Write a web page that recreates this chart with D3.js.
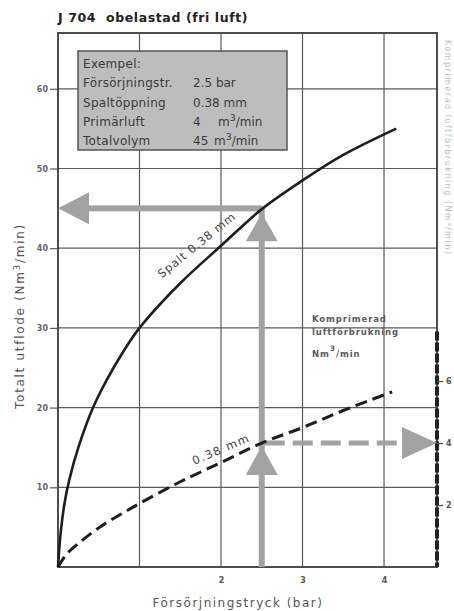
<!DOCTYPE html>
<html>
<head>
<meta charset="utf-8">
<script src="https://cdn.jsdelivr.net/npm/d3@7"></script>
<style>
  html, body { margin: 0; padding: 0; background: #fff; }
  svg { display: block; }
  text { font-family: "DejaVu Sans", "Noto Sans", sans-serif; }
</style>
</head>
<body>
<svg id="chart" width="454" height="611"></svg>
<script>
// Supply pressure (bar) grid and tick values
const xGrid = [1, 2, 3, 4];
const xTickLabels = [2, 3, 4];
// Total outflow (Nm3/min), left axis
const yGrid = [10, 20, 30, 40, 50, 60];
// Compressed-air consumption (Nm3/min), right axis
const rTicks = [2, 4, 6];

// Slot 0.38 mm: total outflow vs supply pressure
const totalPressure = [0, 0.03, 0.08, 0.14, 0.25, 0.43, 0.6, 0.8, 1.0, 1.5, 2.0, 2.5, 3.0, 3.5, 4.15];
const totalFlow     = [0, 4, 8, 11, 15, 20, 23.5, 27, 30, 35.6, 40.3, 44.9, 48.5, 51.7, 55];

// Slot 0.38 mm: compressed-air consumption vs supply pressure
const primPressure = [0, 0.1, 0.27, 0.52, 0.77, 1.0, 1.5, 2.0, 2.5, 3.0, 3.5, 4.1];
const primFlow     = [0, 0.4, 0.8, 1.3, 1.7, 2.05, 2.75, 3.37, 4.0, 4.5, 5.05, 5.65];

// Worked example
const examplePressure = 2.5;
const exampleTotal = 45;
const examplePrimary = 4;

const svg = d3.select("#chart");
const m = { left: 58, right: 437, top: 33, bottom: 567 };

const x = d3.scaleLinear().domain([0, 4.65]).range([m.left, m.right]);
const yL = d3.scaleLinear().domain([0, 67]).range([m.bottom, m.top]);
const yR = d3.scaleLinear().domain([0, 17.23]).range([m.bottom, m.top]);

const gridColor = "#5a5a5a";
const arrowGray = "#a2a2a2";

// Title
svg.append("text")
  .attr("x", 58).attr("y", 22)
  .attr("font-size", 12.5).attr("font-weight", "bold").attr("fill", "#222")
  .attr("letter-spacing", 0.6)
  .text("J 704\u00a0 obelastad (fri luft)");

// Grid
const grid = svg.append("g");
grid.selectAll("line.v").data(xGrid).join("line")
  .attr("x1", d => x(d)).attr("x2", d => x(d))
  .attr("y1", m.top).attr("y2", m.bottom)
  .attr("stroke", gridColor).attr("stroke-width", 1.2);
grid.selectAll("line.h").data(yGrid).join("line")
  .attr("x1", m.left).attr("x2", m.right)
  .attr("y1", d => yL(d)).attr("y2", d => yL(d))
  .attr("stroke", gridColor).attr("stroke-width", 1.2);

// Left axis
const leftAxis = d3.axisLeft(yL).tickValues(yGrid).tickSize(8).tickPadding(2);
const gL = svg.append("g").attr("transform", `translate(${m.left},0)`).call(leftAxis);
gL.select(".domain").remove();
gL.selectAll("line").attr("stroke", gridColor).attr("stroke-width", 1.2);
gL.selectAll("text").attr("font-size", 8).attr("font-weight", "bold").attr("fill", "#666");

// Bottom axis
const bottomAxis = d3.axisBottom(x).tickValues(xTickLabels).tickFormat(d3.format("d"))
  .tickSize(0).tickPadding(10);
const gB = svg.append("g").attr("transform", `translate(0,${m.bottom})`).call(bottomAxis);
gB.select(".domain").remove();
gB.selectAll("text").attr("font-size", 8).attr("font-weight", "bold").attr("fill", "#555");

// Frame
svg.append("rect")
  .attr("x", m.left).attr("y", m.top)
  .attr("width", m.right - m.left).attr("height", m.bottom - m.top)
  .attr("fill", "none").attr("stroke", "#3a3a3a").attr("stroke-width", 1.8);

// Right (secondary) axis: heavy dashed segment plus ticks
svg.append("line")
  .attr("x1", m.right).attr("x2", m.right)
  .attr("y1", yR(7.6)).attr("y2", m.bottom)
  .attr("stroke", "#222").attr("stroke-width", 4)
  .attr("stroke-dasharray", "9,2");
const rightAxis = d3.axisRight(yR).tickValues(rTicks).tickSize(6).tickPadding(3);
const gR = svg.append("g").attr("transform", `translate(${m.right},0)`).call(rightAxis);
gR.select(".domain").remove();
gR.selectAll("line").attr("stroke", "#444").attr("stroke-width", 1.2);
gR.selectAll("text").attr("font-size", 8).attr("font-weight", "bold").attr("fill", "#555");

// Example box
const box = svg.append("g");
box.append("rect")
  .attr("x", 78).attr("y", 51).attr("width", 209).attr("height", 99)
  .attr("fill", "#bdbdbd").attr("stroke", "#555").attr("stroke-width", 1.5);
const boxRows = [
  { label: "Exempel:", value: "" },
  { label: "Försörjningstr.", value: "2.5 bar" },
  { label: "Spaltöppning", value: "0.38 mm" },
  { label: "Primärluft", value: "4", unit: true },
  { label: "Totalvolym", value: "45", unit: true }
];
boxRows.forEach((r, i) => {
  const yy = 68 + i * 19.3;
  box.append("text").attr("x", 83).attr("y", yy)
    .attr("font-size", 12).attr("letter-spacing", 0.3).attr("fill", "#3a3a3a").text(r.label);
  if (r.value) {
    const t = box.append("text").attr("x", 193).attr("y", yy)
      .attr("font-size", 12).attr("fill", "#3a3a3a");
    if (r.unit) {
      t.append("tspan").text(r.value);
      t.append("tspan").attr("x", r.value.length > 1 ? 214 : 218).text("m");
      t.append("tspan").attr("dy", -5).attr("font-size", 9.5).text("3");
      t.append("tspan").attr("dy", 5).text("/min");
    } else {
      t.text(r.value);
    }
  }
});

// Example arrows (grey)
const xe = x(examplePressure);
const yeTop = yL(exampleTotal);
const yeLow = yR(examplePrimary);
const arrows = svg.append("g").attr("fill", arrowGray).attr("stroke", "none");
arrows.append("rect")
  .attr("x", xe - 3).attr("y", yeTop - 2).attr("width", 6).attr("height", m.bottom - yeTop + 2);
arrows.append("rect")
  .attr("x", x(0) + 25).attr("y", yeTop - 3).attr("width", xe - x(0) - 25).attr("height", 6);
// left-pointing head at the total-outflow axis
arrows.append("path")
  .attr("d", `M${x(0)},${yeTop} L${x(0) + 31},${yeTop - 16} L${x(0) + 31},${yeTop + 16} Z`);
// up-pointing heads on the pressure line
arrows.append("path")
  .attr("d", `M${xe},${yeTop + 5} L${xe - 16},${yeTop + 33} L${xe + 16},${yeTop + 33} Z`);
arrows.append("path")
  .attr("d", `M${xe},${yeLow + 3} L${xe - 16},${yeLow + 32} L${xe + 16},${yeLow + 32} Z`);
// dashed arrow to the consumption axis
svg.append("line")
  .attr("x1", xe + 3).attr("x2", m.right - 30)
  .attr("y1", yeLow).attr("y2", yeLow)
  .attr("stroke", arrowGray).attr("stroke-width", 5)
  .attr("stroke-dasharray", "20,8");
arrows.append("path")
  .attr("d", `M${m.right},${yeLow} L${m.right - 35},${yeLow - 16} L${m.right - 35},${yeLow + 16} Z`);

// Curves
const totalLine = d3.line()
  .x((d, i) => x(totalPressure[i]))
  .y(d => yL(d))
  .curve(d3.curveCatmullRom.alpha(0.5));
svg.append("path")
  .attr("d", totalLine(totalFlow))
  .attr("fill", "none").attr("stroke", "#1e1e1e").attr("stroke-width", 2.6);

const primLine = d3.line()
  .x((d, i) => x(primPressure[i]))
  .y(d => yR(d))
  .curve(d3.curveCatmullRom.alpha(0.5));
svg.append("path")
  .attr("d", primLine(primFlow))
  .attr("fill", "none").attr("stroke", "#1e1e1e").attr("stroke-width", 3)
  .attr("stroke-dasharray", "12,6");

// Curve labels
svg.append("text")
  .attr("transform", `translate(${x(1.7)},${yL(40.4)}) rotate(-39)`)
  .attr("text-anchor", "middle").attr("dy", "0.35em")
  .attr("font-size", 11.5).attr("letter-spacing", 0.9).attr("fill", "#444")
  .text("Spalt 0.38 mm");
svg.append("text")
  .attr("transform", `translate(${x(2.0)},${yR(3.8)}) rotate(-23)`)
  .attr("text-anchor", "middle").attr("dy", "0.35em")
  .attr("font-size", 11.5).attr("letter-spacing", 1.4).attr("fill", "#444")
  .text("0.38 mm");

// Secondary axis caption
const cap = svg.append("text")
  .attr("font-size", 8.5).attr("font-weight", "bold").attr("fill", "#5a5a5a").attr("letter-spacing", 0.9);
cap.append("tspan").attr("x", 312).attr("y", 322).text("Komprimerad");
cap.append("tspan").attr("x", 312).attr("y", 335).text("luftförbrukning");
cap.append("tspan").attr("x", 312).attr("y", 357).text("Nm");
cap.append("tspan").attr("dy", -6).attr("font-size", 7.5).text("3");
cap.append("tspan").attr("dy", 6).text("/min");

// Axis titles
const yt = svg.append("text")
  .attr("transform", `translate(24,${316}) rotate(-90)`)
  .attr("text-anchor", "middle").attr("font-size", 12).attr("letter-spacing", 1.7).attr("fill", "#555");
yt.append("tspan").text("Totalt utflode (Nm");
yt.append("tspan").attr("dy", -4).attr("font-size", 9).text("3");
yt.append("tspan").attr("dy", 4).text("/min)");

svg.append("text")
  .attr("x", 238).attr("y", 607)
  .attr("text-anchor", "middle").attr("font-size", 12).attr("letter-spacing", 1.5).attr("fill", "#555")
  .text("Försörjningstryck (bar)");

// Faint caption along the right edge
svg.append("text")
  .attr("transform", `translate(445,40) rotate(90)`)
  .attr("font-size", 8).attr("fill", "#bbb").attr("letter-spacing", 1.5)
  .text("Komprimerad luftförbrukning (Nm³/min)");
</script>
</body>
</html>
